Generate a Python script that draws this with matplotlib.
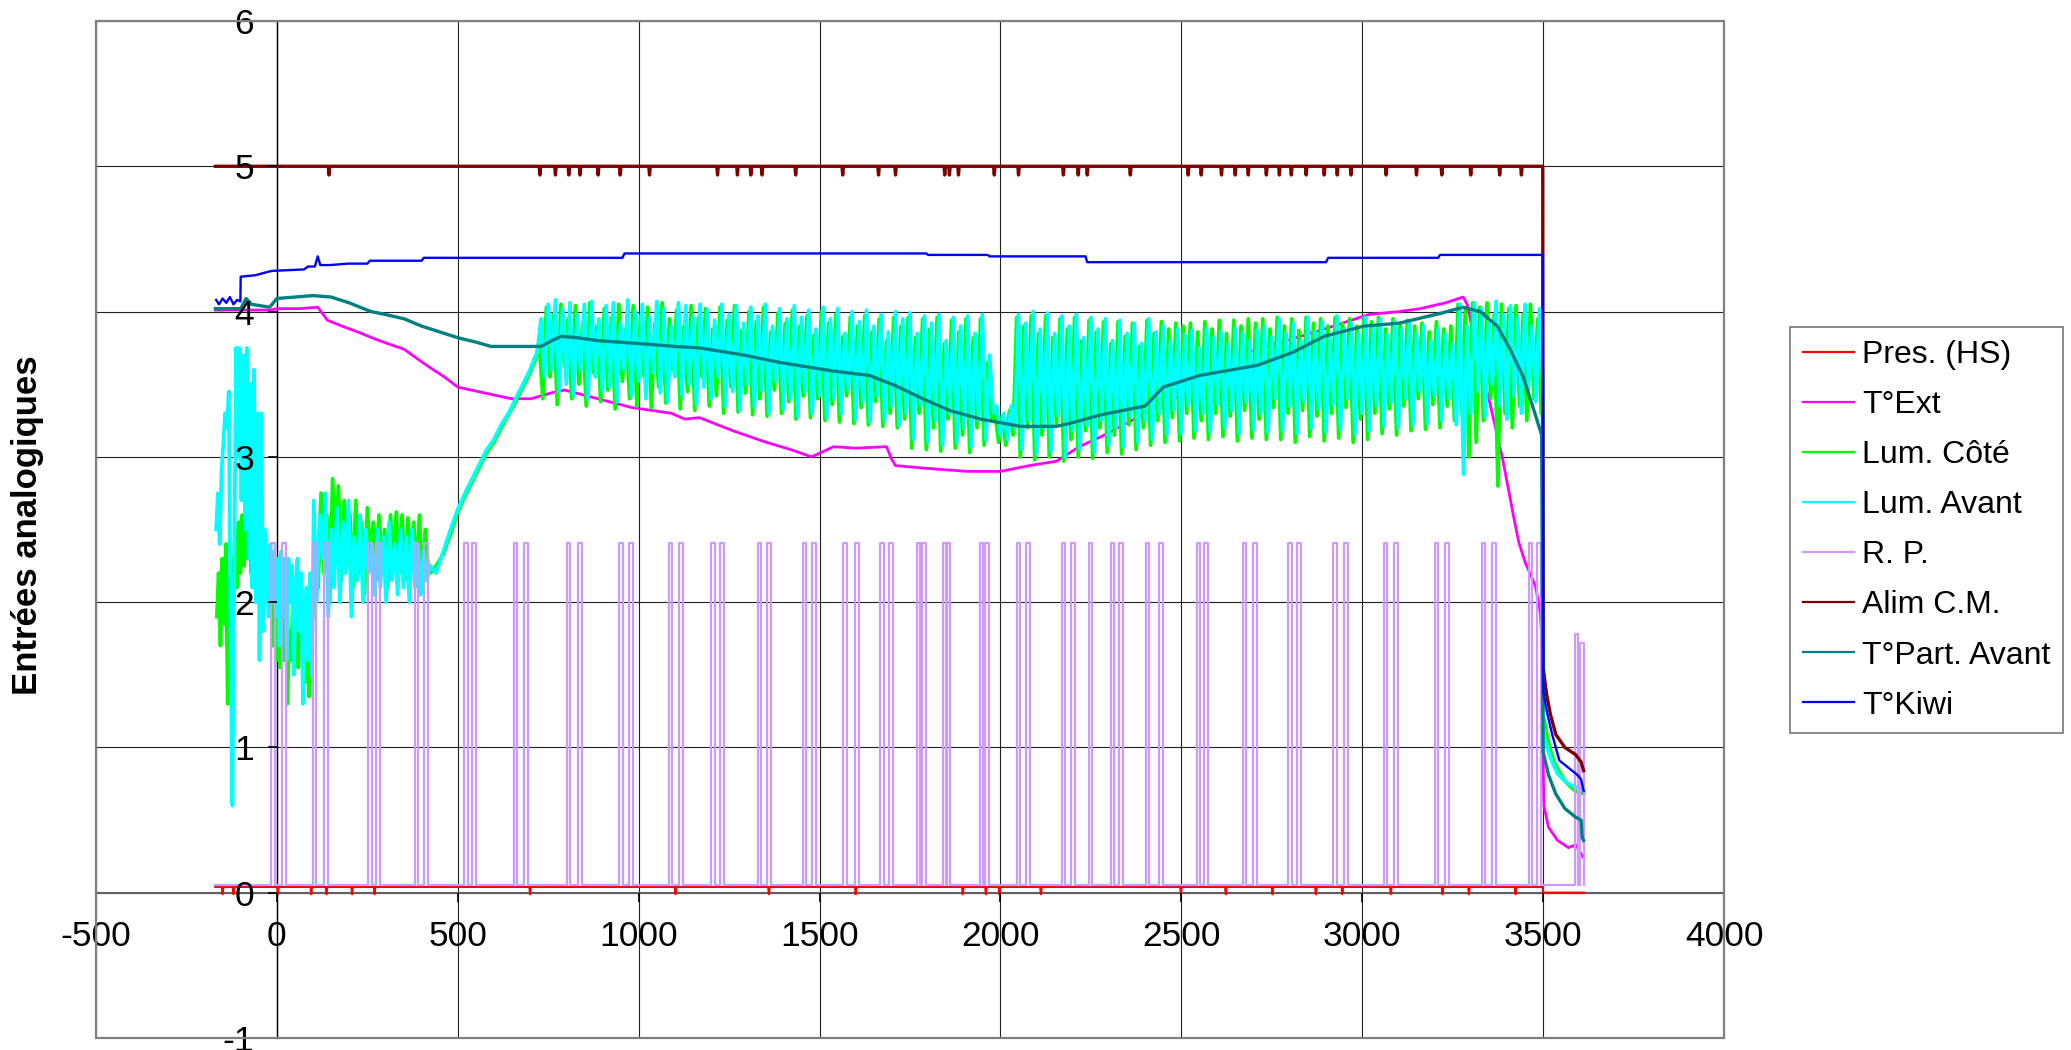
import numpy as np
import matplotlib
matplotlib.use('Agg')
import matplotlib.pyplot as plt
from matplotlib.patches import Rectangle

plt.rcParams['font.family'] = ['Liberation Sans', 'DejaVu Sans']
plt.rcParams['axes.unicode_minus'] = False

# Noms et couleurs des séries (ordre de la légende)
noms = ['Pres. (HS)', 'T°Ext', 'Lum. Côté', 'Lum. Avant', 'R. P.', 'Alim C.M.', 'T°Part. Avant', 'T°Kiwi']
couleurs = ['#FF0000', '#FF00FF', '#00FF00', '#00FFFF', '#CC99FF', '#800000', '#008080', '#0000FF']
epaisseurs = [1.6, 2.0, 2.7, 2.7, 1.6, 2.4, 2.4, 1.7]

# T°Ext
ext_x = [-170, -20, 0, 60, 113, 140, 180, 223, 283, 352, 408, 463, 500, 574, 648, 703, 758, 795, 887, 980,
         1035, 1090, 1127, 1168, 1260, 1353, 1420, 1478, 1539, 1600, 1685, 1700, 1710, 1800, 1909, 2000, 2080, 2155, 2218, 2279,
         2340, 2400, 2480, 2550, 2620, 2685, 2790, 2895, 3019, 3102, 3160, 3230, 3279, 3290, 3320, 3350, 3387, 3420, 3433, 3451,
         3479, 3492, 3498, 3500, 3502, 3515, 3540, 3570, 3590, 3612]
ext_y = [4.01, 4.01, 4.02, 4.02, 4.03, 3.94, 3.90, 3.86, 3.80, 3.74, 3.64, 3.55, 3.48, 3.44, 3.40, 3.40, 3.44, 3.46, 3.40, 3.34,
         3.32, 3.30, 3.26, 3.27, 3.18, 3.10, 3.05, 3.00, 3.07, 3.06, 3.07, 2.98, 2.94, 2.92, 2.90, 2.90, 2.94, 2.97, 3.07, 3.14,
         3.22, 3.30, 3.40, 3.50, 3.60, 3.72, 3.80, 3.88, 3.98, 4.00, 4.02, 4.06, 4.10, 4.05, 3.70, 3.40, 3.00, 2.57, 2.41, 2.27,
         2.11, 1.93, 1.70, 0.93, 0.60, 0.45, 0.36, 0.31, 0.33, 0.24]

# T°Part. Avant
part_x = [-170, -100, -85, -70, -20, 0, 100, 150, 200, 260, 300, 352, 400, 450, 500, 550, 592, 730, 760, 786,
          830, 887, 1000, 1100, 1168, 1292, 1390, 1539, 1638, 1710, 1785, 1859, 1945, 2055, 2155, 2191, 2279, 2400, 2450, 2550,
          2710, 2809, 2895, 3005, 3102, 3220, 3279, 3326, 3373, 3409, 3445, 3481, 3496, 3500, 3515, 3535, 3560, 3590, 3605, 3608,
          3612]
part_y = [4.02, 4.02, 4.09, 4.05, 4.03, 4.09, 4.11, 4.10, 4.06, 4.00, 3.98, 3.95, 3.90, 3.86, 3.82, 3.79, 3.76, 3.76, 3.80, 3.83,
          3.82, 3.80, 3.78, 3.76, 3.75, 3.70, 3.65, 3.59, 3.56, 3.49, 3.40, 3.32, 3.26, 3.21, 3.21, 3.23, 3.29, 3.35, 3.48, 3.56,
          3.63, 3.72, 3.83, 3.90, 3.92, 3.99, 4.03, 4.00, 3.90, 3.74, 3.55, 3.27, 3.15, 0.97, 0.81, 0.68, 0.58, 0.52, 0.50, 0.38,
          0.36]

# T°Kiwi
kiwi_x = [-168, -160, -150, -140, -130, -120, -110, -101, -100, -60, -30, -14, 75, 86, 105, 113, 120, 146, 196, 250,
          257, 400, 406, 955, 961, 1795, 1800, 1965, 1970, 2235, 2240, 2900, 2906, 3210, 3215, 3499, 3501, 3510, 3525, 3545,
          3570, 3595, 3605, 3612]
kiwi_y = [4.08, 4.05, 4.09, 4.06, 4.10, 4.05, 4.08, 4.07, 4.24, 4.25, 4.27, 4.28, 4.29, 4.31, 4.31, 4.38, 4.32, 4.32, 4.33, 4.33,
          4.35, 4.35, 4.37, 4.37, 4.40, 4.40, 4.39, 4.39, 4.38, 4.38, 4.34, 4.34, 4.37, 4.37, 4.39, 4.39, 1.38, 1.25, 1.09, 0.91,
          0.86, 0.81, 0.78, 0.70]

# Alim C.M. : 5 V avec petits creux, puis chute
alim_fin_x = [3499, 3500, 3510, 3520, 3535, 3560, 3590, 3605, 3612]
alim_fin_y = [5.0, 1.55, 1.36, 1.23, 1.09, 1.00, 0.95, 0.90, 0.84]
alim_pics = [144, 727, 770, 807, 838, 888, 949, 1030, 1218, 1273, 1310, 1341, 1434, 1564, 1663, 1710, 1846, 1859, 1884,
             1983, 2050, 2174, 2215, 2240, 2359, 2519, 2555, 2611, 2649, 2685, 2735, 2771, 2804, 2845, 2895, 2931, 2969,
             3066, 3150, 3220, 3300, 3380, 3440]

# Pres. (HS)
pres_pics = [-150, -120, 3, 95, 137, 208, 270, 700, 1102, 1360, 1600, 1896, 1960, 1997, 2112, 2499, 2623, 2752, 2872,
             2945, 3079, 3222, 3295, 3424]

# R. P. : débuts et fins des groupes d'impulsions
rp_debut = [-15, 99, 253, 382, 518, 655, 802, 947, 1083, 1201, 1330, 1454, 1566, 1668, 1770, 1842, 1944, 2046, 2170, 2244,
            2306, 2401, 2542, 2671, 2796, 2920, 3060, 3201, 3331, 3460]
rp_fin = [25, 142, 286, 419, 549, 694, 843, 984, 1123, 1237, 1366, 1491, 1609, 1702, 1793, 1861, 1968, 2083, 2207, 2253,
          2340, 2448, 2574, 2710, 2830, 2962, 3098, 3240, 3371, 3494]
rp_apres = [(3588, 3597, 1.78), (3602, 3612, 1.72)]

# Lum. Avant : début bruité (pas 5 depuis -168)
avant_debut = [2.5, 2.75, 2.4, 2.9, 3.1, 3.3, 3.2, 3.45, 1.8, 0.6,
               2.2, 3.75, 3.0, 3.75, 2.7, 3.7, 2.5, 3.75, 2.3, 3.5,
               2.1, 3.6, 2.0, 3.3, 1.6, 3.3, 1.8, 2.5, 2.2, 1.9,
               2.4, 2.0, 2.35, 1.9, 2.3, 1.7, 2.35, 1.9, 2.3, 1.6,
               2.3, 2.0, 2.25, 1.5, 2.1, 2.3, 1.8, 2.2, 1.3, 1.9,
               2.1, 1.6, 2.2, 1.5]
# pas 8 depuis 102
avant_milieu = [2.7, 2.0, 2.6, 2.3, 2.75, 1.9, 2.5, 2.1, 2.65, 2.0,
                2.55, 2.2, 2.7, 1.9, 2.45, 2.15, 2.6, 2.0, 2.5, 2.2,
                2.4, 2.05, 2.5, 2.1, 2.45, 2.0, 2.55, 2.15, 2.4, 2.05,
                2.5, 2.1, 2.45, 2.0, 2.5, 2.1, 2.4, 2.05, 2.35, 2.15]
avant_rampe_x = [424, 440, 460, 480, 500, 520, 540, 560, 580, 600, 620, 640, 660, 680, 700, 712]
avant_rampe_y = [2.25, 2.2, 2.35, 2.5, 2.64, 2.75, 2.85, 2.95, 3.05, 3.12, 3.22, 3.3, 3.4, 3.5, 3.6, 3.68]
# pas 10 depuis 720
avant_osc = [3.72, 3.95, 3.55, 4.05, 3.60, 4.08, 3.45, 4.02, 3.50, 4.06,
             3.42, 3.98, 3.60, 4.05, 3.40, 4.07, 3.55, 3.95, 3.45, 4.04,
             3.48, 4.06, 3.38, 3.92, 3.60, 4.08, 3.42, 4.00, 3.52, 4.05,
             3.40, 3.96, 3.58, 4.07, 3.44, 4.02, 3.38, 3.90, 3.55, 4.06,
             3.42, 4.04, 3.50, 3.96, 3.36, 4.05, 3.48, 4.01, 3.40, 3.94,
             3.55, 4.05, 3.35, 3.98, 3.45, 4.04, 3.32, 3.92, 3.50, 4.03,
             3.34, 3.97, 3.46, 4.05, 3.30, 3.90, 3.52, 4.02, 3.33, 3.95,
             3.40, 4.04, 3.28, 3.96, 3.45, 4.01, 3.30, 3.88, 3.42, 4.03,
             3.27, 3.95, 3.40, 4.02, 3.30, 3.85, 3.46, 4.00, 3.26, 3.93,
             3.38, 4.01, 3.24, 3.90, 3.42, 3.98, 3.25, 3.86, 3.35, 4.00,
             3.22, 3.95, 3.30, 3.99, 3.12, 3.85, 3.35, 3.97, 3.10, 3.92,
             3.25, 3.98, 3.08, 3.80, 3.30, 3.96, 3.10, 3.90, 3.20, 3.97,
             3.07, 3.85, 3.25, 3.98, 3.12, 3.70, 3.30, 3.35, 3.15, 3.30,
             3.12, 3.35, 3.20, 3.98, 3.05, 3.92, 3.25, 4.00, 3.02, 3.88,
             3.20, 3.99, 3.04, 3.85, 3.28, 3.97, 3.00, 3.90, 3.18, 3.98,
             3.05, 3.82, 3.22, 3.96, 3.03, 3.88, 3.25, 3.95, 3.08, 3.80,
             3.20, 3.94, 3.07, 3.85, 3.28, 3.92, 3.10, 3.78, 3.25, 3.95,
             3.12, 3.86, 3.30, 3.90, 3.15, 3.80, 3.32, 3.88, 3.16, 3.84,
             3.35, 3.87, 3.18, 3.75, 3.30, 3.88, 3.17, 3.82, 3.36, 3.86,
             3.20, 3.78, 3.32, 3.88, 3.16, 3.85, 3.38, 3.80, 3.19, 3.87,
             3.30, 3.90, 3.17, 3.82, 3.40, 3.95, 3.18, 3.85, 3.35, 3.92,
             3.16, 3.80, 3.38, 3.96, 3.20, 3.86, 3.33, 3.93, 3.17, 3.84,
             3.36, 3.97, 3.19, 3.88, 3.40, 3.92, 3.16, 3.85, 3.30, 3.96,
             3.18, 3.90, 3.35, 3.95, 3.21, 3.84, 3.38, 3.93, 3.20, 3.88,
             3.40, 3.92, 3.22, 3.85, 3.45, 3.90, 3.23, 3.80, 3.42, 3.88,
             3.25, 3.84, 3.40, 3.78, 3.22, 4.05, 2.88, 3.90, 3.30, 4.06,
             3.45, 4.02, 3.28, 3.95, 3.50, 4.07, 3.35, 3.98, 3.26, 4.04,
             3.42, 3.96, 3.30, 4.05, 3.48, 3.90, 3.38, 4.02]
avant_fin_x = [3499, 3500, 3505, 3515, 3525, 3540, 3555, 3570, 3585, 3600, 3612]
avant_fin_y = [3.55, 1.14, 1.05, 0.97, 0.90, 0.82, 0.78, 0.75, 0.73, 0.72, 0.70]

# Lum. Côté : début bruité (pas 5 depuis -166)
cote_debut = [1.9, 2.2, 1.7, 2.3, 1.85, 2.4, 1.3, 2.1, 2.3, 1.9,
              2.5, 2.1, 2.55, 2.2, 2.6, 2.25, 2.5, 2.3, 2.55, 2.2,
              2.45, 2.15, 2.4, 2.2, 2.35, 2.1, 2.3, 2.15, 2.3, 2.1,
              2.2, 1.7, 2.05, 1.6, 2.0, 1.55, 1.95, 1.6, 2.1, 1.3,
              1.8, 1.6, 2.0, 1.7, 1.9, 1.55, 2.0, 1.75, 1.85, 1.45,
              1.8, 1.35, 1.75, 1.9]
# pas 8 depuis 106
cote_milieu = [2.4, 2.1, 2.75, 2.2, 2.6, 2.0, 2.85, 2.3, 2.8, 2.15,
               2.7, 2.25, 2.6, 2.1, 2.7, 2.2, 2.55, 2.05, 2.65, 2.3,
               2.55, 2.15, 2.6, 2.3, 2.5, 2.1, 2.6, 2.25, 2.62, 2.2,
               2.6, 2.15, 2.58, 2.3, 2.55, 2.2, 2.6, 2.1, 2.5, 2.25]
cote_rampe_x = [424, 440, 460, 480, 500, 520, 540, 560, 580, 600, 620, 640, 660, 680, 700, 716]
cote_rampe_y = [2.2, 2.25, 2.33, 2.47, 2.62, 2.73, 2.83, 2.93, 3.03, 3.1, 3.2, 3.29, 3.38, 3.48, 3.58, 3.68]
# pas 10 depuis 725
cote_osc = [3.80, 3.40, 4.03, 3.55, 3.98, 3.36, 4.05, 3.62, 3.95, 3.40,
            4.04, 3.50, 3.92, 3.35, 4.06, 3.58, 3.90, 3.38, 4.02, 3.46,
            3.96, 3.33, 4.05, 3.52, 3.88, 3.40, 4.04, 3.35, 3.97, 3.55,
            4.03, 3.34, 3.92, 3.48, 4.06, 3.37, 3.95, 3.60, 4.01, 3.33,
            3.90, 3.45, 4.04, 3.32, 3.96, 3.55, 4.02, 3.35, 3.88, 3.42,
            4.03, 3.30, 3.94, 3.48, 4.04, 3.31, 3.87, 3.44, 4.00, 3.29,
            3.93, 3.40, 4.03, 3.28, 3.86, 3.46, 3.99, 3.30, 3.92, 3.38,
            4.01, 3.26, 3.90, 3.42, 3.97, 3.27, 3.84, 3.40, 4.00, 3.25,
            3.92, 3.36, 3.98, 3.24, 3.83, 3.42, 3.96, 3.23, 3.90, 3.34,
            3.97, 3.22, 3.86, 3.38, 3.95, 3.21, 3.80, 3.30, 3.96, 3.20,
            3.90, 3.26, 3.96, 3.06, 3.82, 3.30, 3.95, 3.05, 3.88, 3.20,
            3.96, 3.04, 3.78, 3.26, 3.94, 3.06, 3.86, 3.15, 3.95, 3.03,
            3.82, 3.20, 3.95, 3.08, 3.65, 3.25, 3.30, 3.10, 3.28, 3.08,
            3.32, 3.15, 3.96, 3.00, 3.90, 3.20, 3.97, 2.98, 3.85, 3.15,
            3.97, 3.00, 3.82, 3.22, 3.95, 2.97, 3.88, 3.12, 3.96, 3.00,
            3.80, 3.18, 3.94, 2.99, 3.86, 3.20, 3.93, 3.03, 3.78, 3.15,
            3.93, 3.02, 3.83, 3.22, 3.92, 3.05, 3.76, 3.20, 3.94, 3.08,
            3.85, 3.25, 3.93, 3.10, 3.88, 3.27, 3.92, 3.11, 3.90, 3.30,
            3.92, 3.13, 3.86, 3.25, 3.93, 3.12, 3.88, 3.30, 3.94, 3.14,
            3.85, 3.28, 3.94, 3.11, 3.90, 3.32, 3.95, 3.13, 3.92, 3.26,
            3.95, 3.12, 3.88, 3.34, 3.96, 3.12, 3.90, 3.30, 3.95, 3.10,
            3.87, 3.32, 3.96, 3.14, 3.92, 3.28, 3.95, 3.11, 3.90, 3.30,
            3.96, 3.13, 3.92, 3.34, 3.95, 3.10, 3.90, 3.26, 3.96, 3.12,
            3.93, 3.30, 3.96, 3.16, 3.88, 3.33, 3.95, 3.15, 3.92, 3.35,
            3.94, 3.18, 3.90, 3.40, 3.92, 3.19, 3.86, 3.36, 3.93, 3.20,
            3.88, 3.35, 3.90, 3.25, 4.05, 3.30, 4.02, 3.00, 4.06, 3.10,
            4.03, 3.25, 4.06, 3.40, 3.98, 2.80, 4.05, 3.30, 4.02, 3.20,
            4.04, 3.35, 3.98, 3.25, 4.05, 3.40, 3.95, 3.30]
cote_fin_x = [3499, 3500, 3510, 3520, 3530, 3545, 3560, 3575, 3590, 3600, 3612]
cote_fin_y = [3.30, 1.23, 1.09, 0.98, 0.90, 0.83, 0.77, 0.73, 0.70, 0.69, 0.68]


def assembler(debut, t0_debut, milieu, t0_milieu, rampe_x, rampe_y, osc, t0_osc, fin_x, fin_y):
    x = list(t0_debut + 5 * np.arange(len(debut))) + list(t0_milieu + 8 * np.arange(len(milieu))) \
        + rampe_x + list(t0_osc + 10 * np.arange(len(osc))) + fin_x
    y = debut + milieu + rampe_y + osc + fin_y
    return x, y


avant_x, avant_y = assembler(avant_debut, -168, avant_milieu, 102, avant_rampe_x, avant_rampe_y,
                             avant_osc, 720, avant_fin_x, avant_fin_y)
cote_x, cote_y = assembler(cote_debut, -166, cote_milieu, 106, cote_rampe_x, cote_rampe_y,
                           cote_osc, 725, cote_fin_x, cote_fin_y)

# Alim C.M.
alim_x, alim_y = [-170], [5.0]
for p in alim_pics:
    alim_x += [p - 2, p, p + 2]
    alim_y += [5.0, 4.94, 5.0]
alim_x += alim_fin_x
alim_y += alim_fin_y

# Pres. (HS)
pres_x, pres_y = [-170], [0.04]
for p in pres_pics:
    pres_x += [p - 2, p, p + 2]
    pres_y += [0.04, -0.01, 0.04]
pres_x += [3499, 3500, 3612]
pres_y += [0.04, 0.0, 0.0]

# R. P.
bas, haut = 0.055, 2.41
rp_x, rp_y = [-170], [bas]
for a, b in zip(rp_debut, rp_fin):
    if b - a < 18:
        rp_x += [a, a, b, b]
        rp_y += [bas, haut, haut, bas]
    else:
        rp_x += [a, a, a + 9, a + 9, b - 11, b - 11, b, b]
        rp_y += [bas, haut, haut, bas, bas, haut, haut, bas]
for a, b, h in rp_apres:
    rp_x += [a, a, b, b]
    rp_y += [bas, h, h, bas]

series = [(pres_x, pres_y), (ext_x, ext_y), (cote_x, cote_y), (avant_x, avant_y),
          (rp_x, rp_y), (alim_x, alim_y), (part_x, part_y), (kiwi_x, kiwi_y)]

# Figure
fig = plt.figure(figsize=(20.71, 10.5), dpi=100)
ax = fig.add_axes([96 / 2071, 1 - 1038 / 1050, (1724 - 96) / 2071, (1038 - 21) / 1050])

xticks = list(range(-500, 4001, 500))
yticks = list(range(-1, 7))
# quadrillage dessiné sous les courbes, étiquettes des axes au-dessus
for xv in xticks:
    ax.axvline(xv, color='#202020', lw=0.8, zorder=0.5)
for yv in yticks:
    ax.axhline(yv, color='#202020', lw=0.8, zorder=0.5)

for (x, y), nom, c, lw in zip(series, noms, couleurs, epaisseurs):
    ax.plot(x, y, color=c, lw=lw, label=nom, zorder=2)

ax.set_xlim(-500, 4000)
ax.set_ylim(-1, 6)
ax.set_xticks(xticks)
ax.set_yticks(yticks)
ax.set_axisbelow(False)

for s in ['top', 'right']:
    ax.spines[s].set_visible(False)
ax.spines['left'].set_position(('data', 0))
ax.spines['bottom'].set_position(('data', 0))
ax.spines['left'].set_color('black')
ax.spines['left'].set_linewidth(1.0)
ax.spines['left'].set_zorder(1)
ax.spines['bottom'].set_color('#606060')
ax.spines['bottom'].set_linewidth(1.5)
ax.spines['bottom'].set_zorder(1)
ax.tick_params(axis='x', direction='out', length=6.5, width=1.2, labelsize=25.5, pad=13)
ax.tick_params(axis='y', direction='out', length=6.5, width=1.2, labelsize=25.5, pad=10)

ax.add_patch(Rectangle((0, 0), 1, 1, transform=ax.transAxes, fill=False,
                       ec='#808080', lw=1.6, clip_on=False, zorder=4))

fig.text(0.0135, 0.5, 'Entrées analogiques', rotation=90, fontsize=25, fontweight='bold',
         ha='center', va='center')

leg = fig.legend(loc='upper left', bbox_to_anchor=(1790 / 2071, 1 - 327 / 1050), fontsize=23,
                 frameon=True, fancybox=False, edgecolor='#555555', borderpad=0.4,
                 labelspacing=0.63, handlelength=1.6, handletextpad=0.25, borderaxespad=0)
leg.get_frame().set_linewidth(1.2)
for h in leg.get_lines():
    h.set_linewidth(1.6)

fig.savefig('out.png', dpi=100)
